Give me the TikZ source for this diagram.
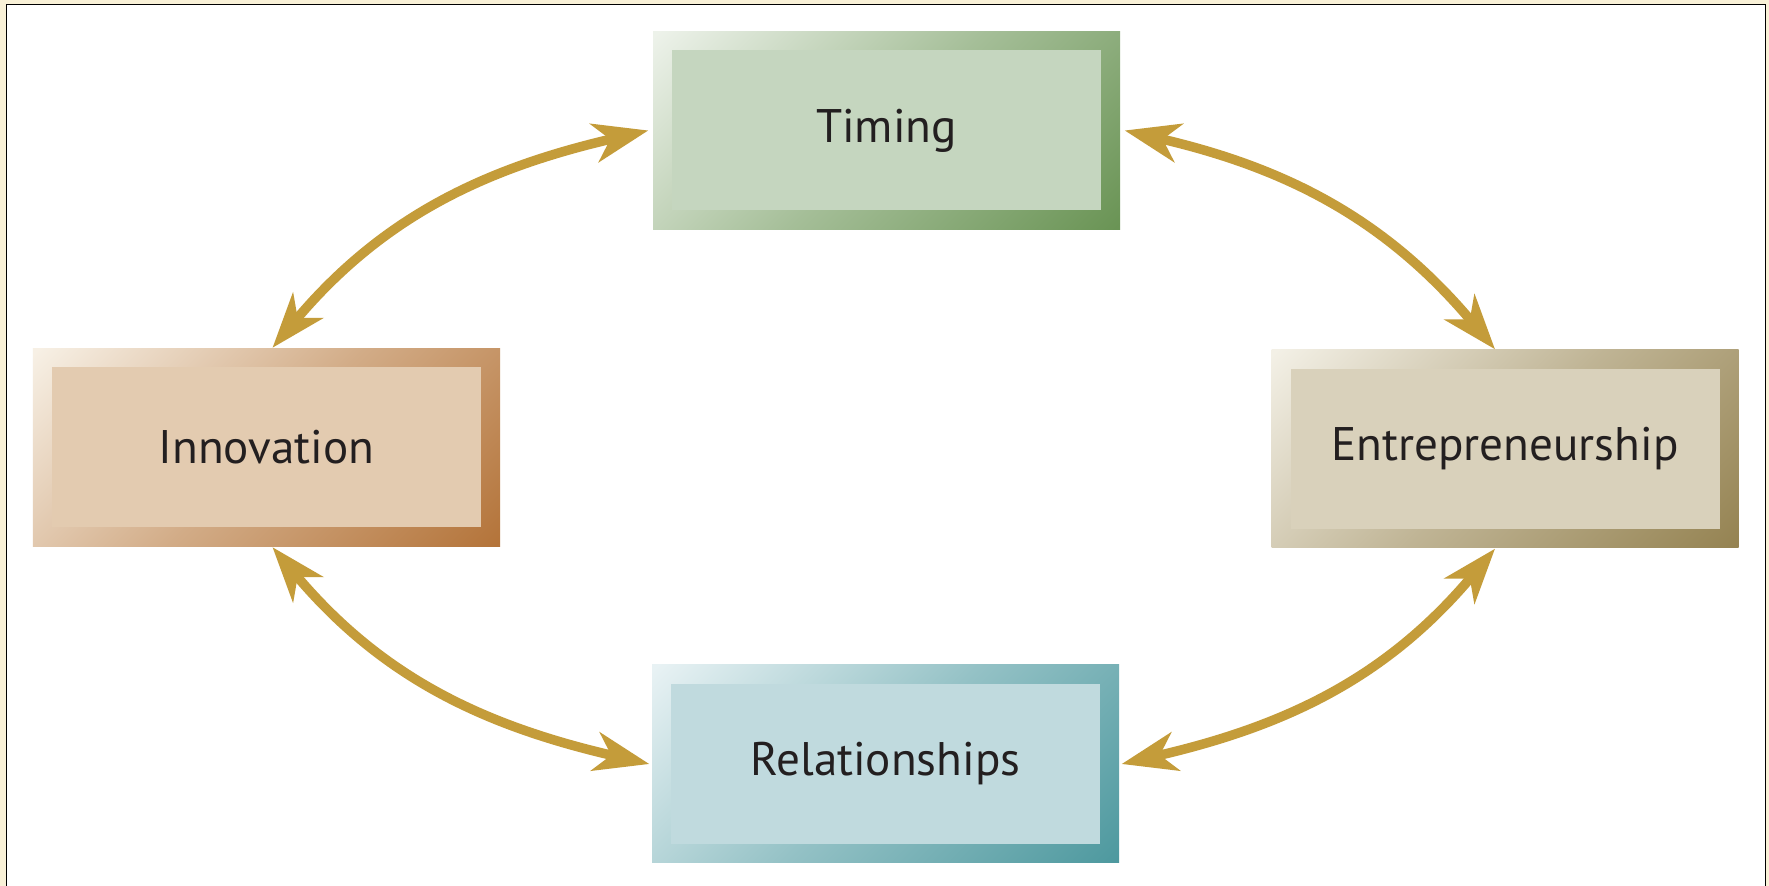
\documentclass[tikz,border=0pt]{standalone}
\usepackage{fontspec}
\setmainfont{PT Sans}
\usepackage{xcolor}
\usetikzlibrary{arrows.meta, positioning}

\definecolor{cream}{HTML}{F9F1D7}
\definecolor{gold}{HTML}{C49C3A}
\definecolor{ink}{HTML}{231F20}
\definecolor{timelight}{HTML}{EDF2EA}
\definecolor{timedark}{HTML}{6A9455}
\definecolor{timecore}{HTML}{C5D6BF}
\definecolor{innolight}{HTML}{F7F0E5}
\definecolor{innodark}{HTML}{B4743A}
\definecolor{innocore}{HTML}{E3CBB0}
\definecolor{entrelight}{HTML}{F3F0E6}
\definecolor{entredark}{HTML}{958352}
\definecolor{entrecore}{HTML}{D9D1BB}
\definecolor{rellight}{HTML}{E8F2F4}
\definecolor{reldark}{HTML}{4E999F}
\definecolor{relcore}{HTML}{C0DADE}

% corner-to-corner frame shading, light top left to dark bottom right
\newcommand\frameshade[3]{%
  \colorlet{#1mid}{#3!55!#2}%
  \pgfdeclarehorizontalshading{#1}{100bp}{color(0bp)=(#2); color(15bp)=(#2); color(50bp)=(#1mid); color(85bp)=(#3); color(100bp)=(#3)}}
\frameshade{timeshade}{timelight}{timedark}
\frameshade{innoshade}{innolight}{innodark}
\frameshade{entreshade}{entrelight}{entredark}
\frameshade{relshade}{rellight}{reldark}

\begin{document}
\begin{tikzpicture}[
    box/.style={minimum width=4.67cm, minimum height=1.98cm, inner sep=0pt, font=\fontsize{13.4}{15}\selectfont, text=ink, shading angle=-45},
    core/.style={path picture={\fill[#1] ([shift={(0.19,0.19)}]path picture bounding box.south west) rectangle ([shift={(-0.19,-0.19)}]path picture bounding box.north east);}},
    timebox/.style= {box, shade, shading=timeshade,  core=timecore},
    innobox/.style= {box, shade, shading=innoshade,  core=innocore},
    entrebox/.style={box, shade, shading=entreshade, core=entrecore},
    relbox/.style=  {box, shade, shading=relshade,   core=relcore},
    arrow/.style={{Stealth[length=5.5mm, width=3.9mm, inset=1.6mm]}-{Stealth[length=5.5mm, width=3.9mm, inset=1.6mm]}, line width=0.95mm, gold}
]
\useasboundingbox (0,0) rectangle (17.69,8.86);
\fill[cream] (0,0) rectangle (17.69,8.86);
\filldraw[fill=white, draw=black, line width=0.45pt] (0.065,0) |- (17.655,8.815) -- (17.655,0);

\node[timebox]  (timing) at (8.865, 7.555) {Timing};
\node[innobox]  (innov)  at (2.665, 4.385) {Innovation};
\node[entrebox] (entre)  at (15.05, 4.37)  {Entrepreneurship};
\node[relbox]   (rel)    at (8.855, 1.22)  {Relationships};

% two-way links round the cycle
\draw[arrow] ([xshift=0.6mm]innov.north)  to[out=50,   in=193] ([xshift=-0.4mm]timing.west);
\draw[arrow] ([xshift=0.4mm]timing.east)  to[out=-13,  in=130] ([xshift=-1mm]entre.north);
\draw[arrow] ([xshift=0.6mm]innov.south)  to[out=-50,  in=167] ([xshift=-0.2mm]rel.west);
\draw[arrow] ([xshift=-1mm]entre.south)   to[out=-130, in=13]  ([xshift=0.2mm]rel.east);
\end{tikzpicture}
\end{document}
